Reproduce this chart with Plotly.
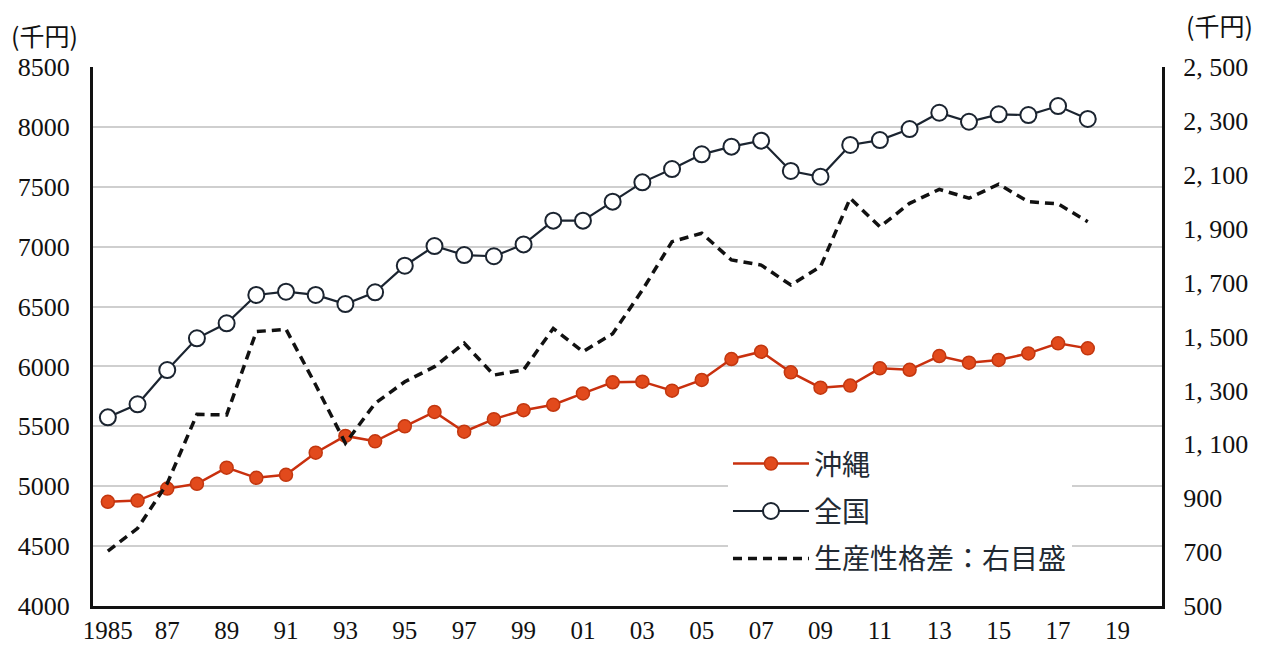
import plotly.graph_objects as go

years = list(range(1985, 2019))
okinawa = [4870, 4880, 4980, 5020, 5155, 5070, 5095, 5280, 5420, 5375, 5500, 5620,
           5455, 5560, 5635, 5680, 5775, 5868, 5873, 5798, 5887, 6062, 6123, 5951,
           5823, 5840, 5984, 5972, 6087, 6031, 6054, 6109, 6193, 6151]
zenkoku = [5575, 5684, 5970, 6235, 6360, 6597, 6624, 6597, 6521, 6619, 6841, 7005,
           6930, 6920, 7019, 7217, 7217, 7376, 7537, 7648, 7771, 7835, 7885, 7632,
           7584, 7849, 7890, 7982, 8118, 8043, 8105, 8099, 8174, 8066]
gap = [704, 788, 955, 1211, 1209, 1518, 1527, 1320, 1104, 1252, 1332, 1388,
       1475, 1357, 1376, 1530, 1444, 1510, 1672, 1852, 1883, 1784, 1765, 1691,
       1759, 2013, 1907, 1994, 2046, 2013, 2065, 2000, 1992, 1926]

x_tickvals = list(range(1985, 2020, 2))
x_ticktext = ["1985", "87", "89", "91", "93", "95", "97", "99", "01", "03",
              "05", "07", "09", "11", "13", "15", "17", "19"]
left_ticks = [4000, 4500, 5000, 5500, 6000, 6500, 7000, 7500, 8000, 8500]
right_ticks = [500, 700, 900, 1100, 1300, 1500, 1700, 1900, 2100, 2300, 2500]
right_text = ["500", "700", "900", "1, 100", "1, 300", "1, 500", "1, 700",
              "1, 900", "2, 100", "2, 300", "2, 500"]

serif = "Liberation Serif"
cjk = "Noto Sans CJK JP"

fig = go.Figure()
fig.add_trace(go.Scatter(
    x=years, y=okinawa, name="沖縄", mode="lines+markers", legendgroup="a",
    line=dict(color="#C9300E", width=2.5),
    marker=dict(symbol="circle", size=13, color="#E24A1C",
                line=dict(color="#C2370F", width=1.5)),
))
fig.add_trace(go.Scatter(
    x=years, y=zenkoku, name="全国", mode="lines+markers", legendgroup="b",
    line=dict(color="#1B2430", width=2.2),
    marker=dict(symbol="circle", size=16, color="white",
                line=dict(color="#1B2430", width=2)),
))
fig.add_trace(go.Scatter(
    x=years, y=gap, name="生産性格差：右目盛", mode="lines", legendgroup="c",
    yaxis="y2",
    line=dict(color="#111111", width=3.5, dash="9px,6px"),
))

fig.update_layout(
    width=1278, height=639,
    margin=dict(l=85, r=124, t=59, b=41, autoexpand=False),
    paper_bgcolor="white", plot_bgcolor="white",
    font=dict(family=serif, size=26, color="#111111"),
    showlegend=True,
    legend=dict(
        x=0.594, y=0.31, xanchor="left", yanchor="top",
        bgcolor="white", borderwidth=0,
        font=dict(family=cjk, size=28, color="#222a33"),
        itemwidth=76, tracegroupgap=8,
    ),
    xaxis=dict(
        range=[1984.5, 2020.5], tickvals=x_tickvals, ticktext=x_ticktext,
        showgrid=False, showline=True, linecolor="#111111", linewidth=3,
        ticks="", zeroline=False, tickfont=dict(family=serif, size=25),
        automargin=False, ticklabelstandoff=0,
    ),
    yaxis=dict(
        range=[4000, 8500], tickvals=left_ticks, showgrid=True,
        gridcolor="#CFCFCF", gridwidth=1.5, showline=True, linecolor="#111111",
        linewidth=3, ticks="", zeroline=False, tickfont=dict(family=serif, size=26),
        ticklabelstandoff=15, automargin=False,
    ),
    yaxis2=dict(
        range=[500, 2500], tickvals=right_ticks, ticktext=right_text,
        overlaying="y", side="right", showgrid=False, showline=True,
        linecolor="#111111", linewidth=3, ticks="", zeroline=False,
        tickfont=dict(family=serif, size=26), ticklabelstandoff=13,
        automargin=False,
    ),
    annotations=[
        dict(text="(千円)", xref="paper", yref="paper", x=-0.0786, y=1.022,
             xanchor="left", yanchor="bottom", showarrow=False,
             font=dict(family=cjk, size=25, color="#111111")),
        dict(text="(千円)", xref="paper", yref="paper", x=1.021, y=1.04,
             xanchor="left", yanchor="bottom", showarrow=False,
             font=dict(family=cjk, size=25, color="#111111")),
    ],
)

fig.write_html("out.html")
